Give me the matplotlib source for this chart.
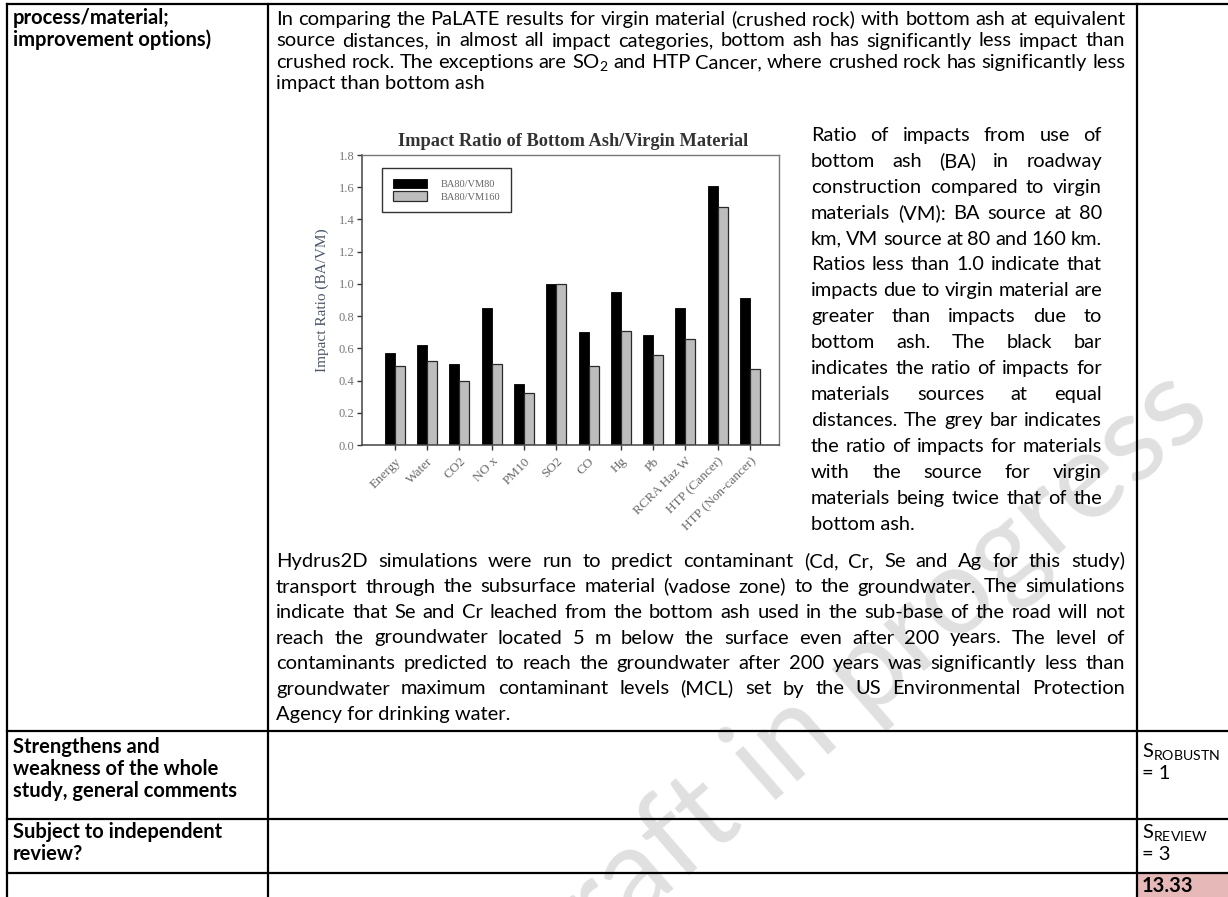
import numpy as np
import matplotlib
matplotlib.use("Agg")
import matplotlib.pyplot as plt
from matplotlib.patches import Rectangle

plt.rcParams["mathtext.fontset"] = "custom"
plt.rcParams["mathtext.rm"] = "Lato"
plt.rcParams["mathtext.bf"] = "Lato:bold"
plt.rcParams["mathtext.it"] = "Lato:italic"

W, H = 1228, 897

# ---- chart data (impact ratio BA / VM) ----
categories = ["Energy", "Water", "CO2", "NO x", "PM10", "SO2", "CO", "Hg", "Pb",
              "RCRA Haz W", "HTP (Cancer)", "HTP (Non-cancer)"]
ba80_vm80 = [0.57, 0.62, 0.50, 0.85, 0.38, 1.00, 0.70, 0.95, 0.68, 0.85, 1.61, 0.91]
ba80_vm160 = [0.49, 0.52, 0.40, 0.50, 0.32, 1.00, 0.49, 0.71, 0.56, 0.66, 1.48, 0.47]
series_names = ["BA80/VM80", "BA80/VM160"]
y_ticks = [0.0, 0.2, 0.4, 0.6, 0.8, 1.0, 1.2, 1.4, 1.6, 1.8]

# ---- table text ----
row_head_1 = ["process/material;", "improvement options)"]
row_head_2 = ["Strengthens and", "weakness of the whole", "study, general comments"]
row_head_3 = ["Subject to independent", "review?"]

intro_lines = [
    "In comparing the PaLATE results for virgin material (crushed rock) with bottom ash at equivalent",
    "source distances, in almost all impact categories, bottom ash has significantly less impact than",
    "crushed rock. The exceptions are SO$_2$ and HTP Cancer, where crushed rock has significantly less",
    "impact than bottom ash",
]
caption_lines = [
    "Ratio of impacts from use of",
    "bottom ash (BA) in roadway",
    "construction compared to virgin",
    "materials (VM): BA source at 80",
    "km, VM source at 80 and 160 km.",
    "Ratios less than 1.0 indicate that",
    "impacts due to virgin material are",
    "greater than impacts due to",
    "bottom ash. The black bar",
    "indicates the ratio of impacts for",
    "materials sources at equal",
    "distances. The grey bar indicates",
    "the ratio of impacts for materials",
    "with the source for virgin",
    "materials being twice that of the",
    "bottom ash.",
]
hydrus_lines = [
    "Hydrus2D simulations were run to predict contaminant (Cd, Cr, Se and Ag for this study)",
    "transport through the subsurface material (vadose zone) to the groundwater. The simulations",
    "indicate that Se and Cr leached from the bottom ash used in the sub-base of the road will not",
    "reach the groundwater located 5 m below the surface even after 200 years. The level of",
    "contaminants predicted to reach the groundwater after 200 years was significantly less than",
    "groundwater maximum contaminant levels (MCL) set by the US Environmental Protection",
    "Agency for drinking water.",
]
score_robust = ["S$_{\\mathrm{ROBUSTN}}$", "= 1"]
score_review = ["S$_{\\mathrm{REVIEW}}$", "= 3"]
total_score = "13.33"

fig = plt.figure(figsize=(W / 100, H / 100), dpi=100)
bg = fig.add_axes([0, 0, 1, 1])
bg.set_xlim(0, W)
bg.set_ylim(H, 0)
bg.axis("off")
renderer = fig.canvas.get_renderer()

FS = 14.5
BODY = dict(family="Lato", fontsize=FS, color="black", zorder=3)
BOLD = dict(family="Lato", fontsize=FS, color="black", fontweight="bold", zorder=3)


def word_widths(words, fs):
    arts = [bg.text(0, 0, w, family="Lato", fontsize=fs) for w in words]
    ws = [a.get_window_extent(renderer).width for a in arts]
    for a in arts:
        a.remove()
    return ws


def fit_size(lines, x0, x1, fs):
    # shrink the block until every justified line fits with normal word spacing
    scale = 1.0
    for line in lines[:-1]:
        words = line.split(" ")
        need = sum(word_widths(words, fs)) + (len(words) - 1) * 0.22 * fs * 100 / 72
        scale = min(scale, (x1 - x0) / need)
    return fs * scale


def put_line(text, x0, x1, y, justify, fs):
    style = dict(BODY, fontsize=fs)
    if not justify:
        bg.text(x0, y, text, ha="left", va="baseline", **style)
        return
    words = text.split(" ")
    arts = [bg.text(x0, y, w, ha="left", va="baseline", **style) for w in words]
    widths = [a.get_window_extent(renderer).width for a in arts]
    gap = (x1 - x0 - sum(widths)) / max(len(words) - 1, 1)
    x = x0
    for a, w in zip(arts, widths):
        a.set_x(x)
        x += w + gap


def put_block(lines, x0, x1, y0, step):
    fs = fit_size(lines, x0, x1, FS)
    for i, line in enumerate(lines):
        put_line(line, x0, x1, y0 + i * step, i < len(lines) - 1, fs)


# watermark behind everything
bg.text(850, 690, "Draft in progress", family="Lato", fontsize=88, color="#e0e0e0",
        rotation=41, ha="center", va="center", rotation_mode="anchor", zorder=0)

# table grid
lw = 1.6
bg.plot([7, W], [4, 4], color="black", lw=lw, zorder=2)
for xv in [7, 268, 1137]:
    bg.plot([xv, xv], [4, H], color="black", lw=lw, zorder=2)
for yv in [731, 819, 873]:
    bg.plot([7, W], [yv, yv], color="black", lw=lw, zorder=2)
bg.add_patch(Rectangle((1138, 874), W - 1138, H - 874, color="#e6b8b7", zorder=1))

# left column headings
for i, s in enumerate(row_head_1):
    bg.text(13, 24 + i * 22, s, ha="left", va="baseline", **BOLD)
for i, s in enumerate(row_head_2):
    bg.text(13, 753 + i * 22, s, ha="left", va="baseline", **BOLD)
for i, s in enumerate(row_head_3):
    bg.text(13, 838 + i * 22, s, ha="left", va="baseline", **BOLD)

# body text
put_block(intro_lines, 276, 1125, 25, 21.5)
put_block(caption_lines, 811, 1102, 141, 25.9)
put_block(hydrus_lines, 276, 1125, 567, 25.5)

# score column
for i, s in enumerate(score_robust):
    bg.text(1142, 757 + i * 22, s, ha="left", va="baseline", **BODY)
for i, s in enumerate(score_review):
    bg.text(1142, 838 + i * 22, s, ha="left", va="baseline", **BODY)
bg.text(1142, 892, total_score, ha="left", va="baseline", **BOLD)

# ---- embedded bar chart ----
serif = "Liberation Serif"
ax_l, ax_r, ax_t, ax_b = 362, 779, 155, 445
ax = fig.add_axes([ax_l / W, 1 - ax_b / H, (ax_r - ax_l) / W, (ax_b - ax_t) / H])
x = np.arange(len(categories))
bw = 0.31
ax.bar(x - bw / 2, ba80_vm80, bw, color="black", edgecolor="black", lw=0.6,
       label=series_names[0])
ax.bar(x + bw / 2, ba80_vm160, bw, color="#bdbdbd", edgecolor="#2a2a2a", lw=0.9,
       label=series_names[1])
ax.set_xlim(-1.02, 11.9)
ax.set_ylim(0, 1.8)
ax.set_yticks(y_ticks)
ax.set_yticklabels([f"{v:.1f}" for v in y_ticks], family=serif, fontsize=9, color="#777777")
ax.set_xticks(x)
ax.set_xticklabels(categories, rotation=45, ha="right", rotation_mode="anchor",
                   family=serif, fontsize=9.5, color="#6a6a6a")
ax.tick_params(axis="both", direction="out", length=3.5, width=1, color="#333333", pad=2)
ax.tick_params(axis="x", pad=4)
for side in ["left", "bottom"]:
    ax.spines[side].set_color("#444444")
    ax.spines[side].set_linewidth(1.1)
for side in ["top", "right"]:
    ax.spines[side].set_color("#777777")
    ax.spines[side].set_linewidth(1.0)

leg = ax.legend(loc="upper left", bbox_to_anchor=(0.048, 0.955), borderaxespad=0,
                frameon=True, fancybox=False, edgecolor="black",
                prop={"family": serif, "size": 7.5}, handlelength=3.3, handleheight=1.0,
                borderpad=1.05, labelspacing=0.2, handletextpad=1.3)
leg.get_frame().set_linewidth(1.0)
for t in leg.get_texts():
    t.set_color("#666666")

bg.text(573, 141, "Impact Ratio of Bottom Ash/Virgin Material", family=serif,
        fontsize=13.2, fontweight="bold", color="#333333", ha="center", va="center", zorder=3)
bg.text(322, 300, "Impact Ratio (BA/VM)", family=serif, fontsize=11, color="#4a5568",
        rotation=90, ha="center", va="center", zorder=3)

fig.savefig("out.png", dpi=100)
